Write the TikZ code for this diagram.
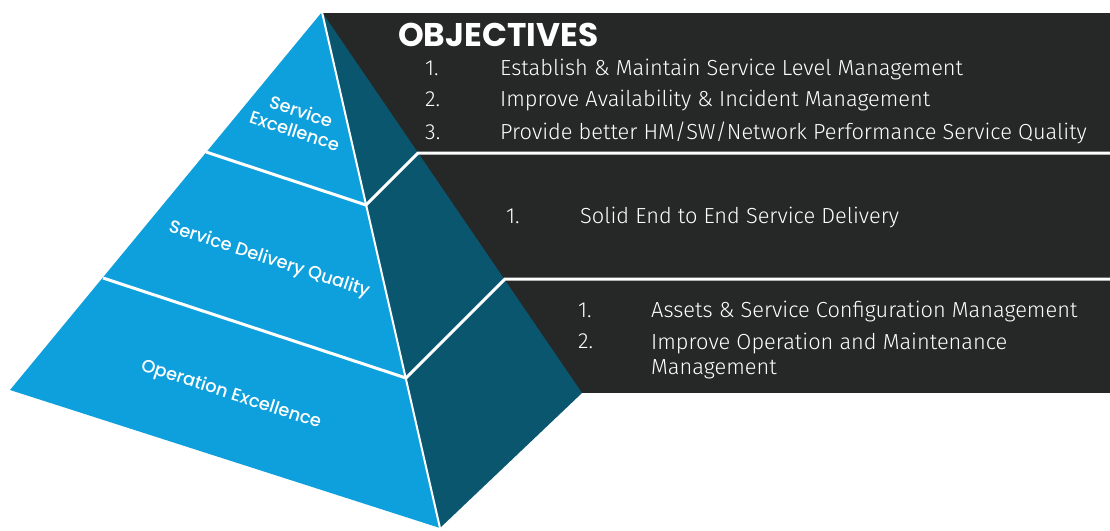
\documentclass[tikz,border=0pt]{standalone}
\usepackage{fontspec}
\setmainfont{Fira Sans Light}
\newfontfamily\headfont{Poppins}
\newfontfamily\labfont{Poppins Medium}
\definecolor{frontc}{HTML}{0EA0DC}
\definecolor{sidec}{HTML}{0A566F}
\definecolor{panelc}{HTML}{262727}
\tikzset{
  sep/.style={draw=white, line width=3pt},
  edgeline/.style={draw=white, line width=2pt},
  body/.style={text=white, inner sep=0pt, anchor=base west, font=\fontsize{21.8}{24.5}\selectfont},
  head/.style={text=white, inner sep=0pt, anchor=base west, font=\headfont\bfseries\fontsize{32.8}{36}\selectfont},
  lab/.style={text=white, inner sep=0pt, align=center, rotate=-18, font=\labfont\fontsize{17.8}{20.5}\selectfont},
}
\begin{document}
\begin{tikzpicture}[x=1pt,y=-1pt]
\useasboundingbox (0,0) rectangle (1110,530);
\coordinate (A) at (322,12);
\coordinate (L) at (10,390);
\coordinate (F) at (440,528);
\coordinate (R) at (582,393);
\coordinate (Q1) at (206,152);
\coordinate (P1) at (366,205);
\coordinate (B1) at (418,153);
\coordinate (E1) at (1110,153);
\coordinate (Q2) at (103,278);
\coordinate (P2) at (406,378);
\coordinate (B2) at (505,279);
\coordinate (E2) at (1110,279);
\coordinate (T0) at (322,13);
\coordinate (T1) at (1110,393);
% panels
\fill[panelc] (T0) rectangle (T1);
% pyramid faces
\fill[frontc] (A) -- (L) -- (F) -- cycle;
\fill[sidec] (A) -- (F) -- (R) -- cycle;
\draw[sep] (Q1) -- (P1) -- (B1) -- (E1);
\draw[sep] (Q2) -- (P2) -- (B2) -- (E2);
\draw[edgeline] (A) -- (F);
% labels on pyramid
\node[lab] (l1) at (298,121) {Service\\Excellence};
\node[lab] (l2) at (269,260) {Service Delivery Quality};
\node[lab] (l3) at (231,395) {Operation Excellence};
% objectives
\node[head] (obj) at (398,46) {OBJECTIVES};
\node[body] (n11) at (425,75) {1.};
\node[body] (t11) at (500,75) {Establish \& Maintain Service Level Management};
\node[body] (n12) at (425,106) {2.};
\node[body] (t12) at (500,106) {Improve Availability \& Incident Management};
\node[body] (n13) at (425,139) {3.};
\node[body] (t13) at (500,139) {Provide better HM/SW/Network Performance Service Quality};
\node[body] (n21) at (506,223) {1.};
\node[body] (t21) at (580,223) {Solid End to End Service Delivery};
\node[body] (n31) at (578,317) {1.};
\node[body] (t31) at (651,317) {Assets \& Service Configuration Management};
\node[body] (n32) at (578,348) {2.};
\node[body, align=left, anchor=north west] (t32) at (651,333) {Improve Operation and Maintenance\\Management};
\end{tikzpicture}
\end{document}
